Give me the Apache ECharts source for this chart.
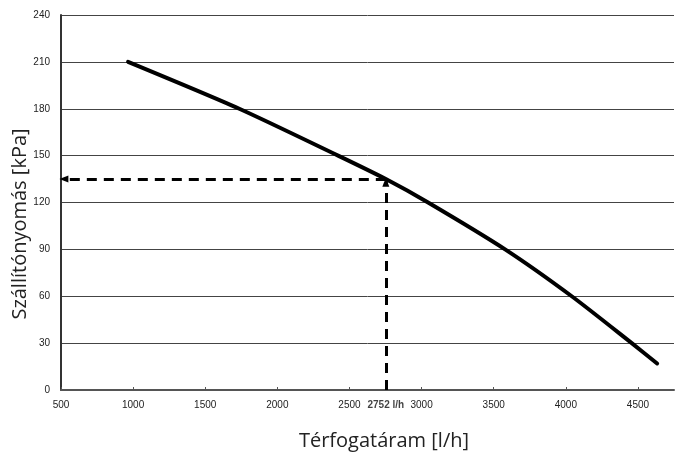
<!DOCTYPE html>
<html><head><meta charset="utf-8">
<script src="https://cdn.jsdelivr.net/npm/echarts@6/dist/echarts.min.js"></script>
<style>html,body{margin:0;padding:0;background:#fff}#c{width:675px;height:453px}</style>
</head><body><div id="c"></div>
<script>
const flowValues = [965, 1736, 2421, 2752, 3045, 3579, 4041, 4457, 4633];
const pressureValues = [210, 180, 150, 135, 120, 90, 60, 30, 17];
const operatingFlow = 2752;
const operatingPressure = 135;
const operatingLabel = '2752 l/h';
const xTitle = 'Térfogatáram [l/h]';
const yTitle = 'Szállítónyomás [kPa]';

const chart = echarts.init(document.getElementById('c'));
const curve = flowValues.map((v, i) => [v, pressureValues[i]]);
const dashStyle = {color: '#000', width: 3, type: [10, 7]};
chart.setOption({
  animation: false,
  grid: {left: 61, right: 1, top: 15, bottom: 63},
  xAxis: {
    type: 'value', min: 500, max: 4750, interval: 500,
    axisLine: {show: true, lineStyle: {color: '#555', width: 2}},
    axisTick: {show: true, inside: true, length: 3, lineStyle: {color: '#555'}},
    axisLabel: {showMaxLabel: false, color: '#222', fontFamily: 'Liberation Sans', fontSize: 10, margin: 10,
      formatter: v => String(v)},
    splitLine: {show: false}
  },
  yAxis: {
    type: 'value', min: 0, max: 240, interval: 30,
    axisLine: {show: true, lineStyle: {color: '#333', width: 2}},
    axisTick: {show: false},
    axisLabel: {color: '#222', fontFamily: 'Liberation Sans', fontSize: 10, margin: 11},
    splitLine: {show: true, lineStyle: {color: '#444', width: 1}}
  },
  graphic: [
    {type: 'text', x: 384, y: 441, style: {text: xTitle, font: '20px "Open Sans"', fill: '#222', align: 'center', verticalAlign: 'middle'}},
    {type: 'text', x: 20, y: 224, rotation: Math.PI / 2, style: {text: yTitle, font: '20px "Open Sans"', fill: '#222', align: 'center', verticalAlign: 'middle'}}
  ],
  series: [
    {
      type: 'line', data: curve, smooth: 0.25, showSymbol: false,
      lineStyle: {color: '#000', width: 4, cap: 'round'}, z: 3,
      markLine: {
        silent: true, animation: false,
        symbol: ['none', 'triangle'], symbolSize: [7, 9],
        lineStyle: dashStyle, label: {show: false},
        data: [
          [{coord: [operatingFlow, operatingPressure]}, {coord: [520, operatingPressure]}],
          [{coord: [operatingFlow, 0]}, {coord: [operatingFlow, operatingPressure - 2]}]
        ]
      }
    },
    {
      type: 'scatter', data: [[operatingFlow, 0]], symbolSize: 0,
      label: {show: true, position: 'bottom', distance: 10, formatter: operatingLabel,
        color: '#111', fontFamily: 'Liberation Sans', fontSize: 10, fontWeight: 'bold'}
    }
  ]
});
</script></body></html>
